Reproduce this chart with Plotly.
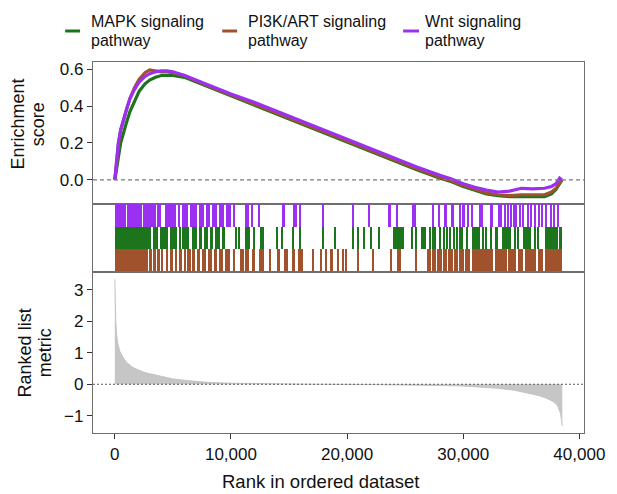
import plotly.graph_objects as go
from plotly.subplots import make_subplots

# ---------------- data ----------------
series_names = ["MAPK signaling pathway", "PI3K/ART signaling pathway", "Wnt signaling pathway"]
series_colors = ["#1c741c", "#a0522d", "#9b30f0"]

es_rank = [0, 150, 300, 500, 750, 1000, 1300, 1700, 2100, 2600, 3000, 3500, 4000, 4500, 5000,
           6000, 8000, 10000, 12000, 14000, 16000, 18000, 20000, 22000, 24000, 26000, 28000,
           29000, 30000, 31000, 32000, 33000, 34000, 35000, 36000, 37000, 37600, 38000, 38300, 38500]
es_mapk = [0, 0.05, 0.12, 0.20, 0.26, 0.31, 0.37, 0.43, 0.48, 0.52, 0.54, 0.555, 0.565, 0.565, 0.565,
           0.555, 0.505, 0.455, 0.405, 0.355, 0.305, 0.255, 0.205, 0.155, 0.105, 0.055, 0.01,
           -0.01, -0.035, -0.055, -0.075, -0.085, -0.09, -0.09, -0.09, -0.09, -0.075, -0.05, -0.02, 0]
es_pi3k = [0, 0.10, 0.19, 0.27, 0.33, 0.38, 0.44, 0.50, 0.545, 0.58, 0.595, 0.59, 0.585, 0.585, 0.58,
           0.565, 0.51, 0.46, 0.41, 0.36, 0.31, 0.26, 0.21, 0.16, 0.11, 0.06, 0.015,
           -0.005, -0.03, -0.05, -0.07, -0.08, -0.085, -0.08, -0.08, -0.08, -0.065, -0.045, -0.015, 0]
es_wnt = [0, 0.12, 0.20, 0.27, 0.33, 0.38, 0.44, 0.49, 0.53, 0.56, 0.575, 0.585, 0.59, 0.59, 0.585,
          0.565, 0.515, 0.465, 0.42, 0.37, 0.32, 0.27, 0.22, 0.17, 0.12, 0.07, 0.025,
          0.005, -0.02, -0.04, -0.055, -0.065, -0.06, -0.045, -0.048, -0.045, -0.035, -0.02, 0.01, 0]

# gene-set hit blocks [start, end] and single hits (ranks)
mapk_blocks = [[0, 3120], [3250, 3680], [3850, 4280], [4370, 4540], [4710, 5390], [5560, 5740],
               [5820, 6420], [6680, 7100], [7280, 7530], [7700, 8050], [8220, 8470], [8650, 9070],
               [9240, 9500], [11210, 11640], [12500, 12810], [23910, 24910], [26340, 26770],
               [30730, 31440], [32700, 33020], [33300, 34150], [35160, 35870], [37010, 38150],
               [38250, 38500]]
mapk_singles = [10440, 10670, 11960, 13950, 14380, 15380, 15950, 17950, 18940, 20480, 20910,
                21490, 22060, 22770, 25620, 25910, 27140, 27390, 27620, 28050, 28330, 28620,
                28910, 29190, 29470, 29760, 29870, 30300, 31730, 32010, 32440, 34440, 34730,
                36150, 36440]
pi3k_blocks = [[0, 2850], [3000, 3170], [3300, 3510], [3600, 3900], [4020, 4190], [4410, 4620],
               [4790, 5010], [5140, 5390], [5560, 5820], [5990, 6120], [6250, 6550], [6680, 6930],
               [7100, 7360], [7530, 7870], [8000, 8390], [8520, 8820], [8990, 9330], [9500, 9930],
               [10250, 10380], [10760, 11100], [11240, 11530], [11810, 12100], [12390, 12810],
               [13950, 14240], [14530, 14950], [15240, 15520], [15810, 16240], [18520, 18810],
               [24340, 24630], [26900, 27220], [27350, 27650], [27780, 28160], [28290, 28590],
               [28720, 29100], [29230, 29530], [29660, 30050], [30150, 30590], [30730, 32590],
               [32730, 33730], [33870, 34580], [34730, 35160], [35290, 36300], [36440, 36870],
               [37010, 38500]]
pi3k_singles = [13380, 17090, 17800, 18230, 19230, 19660, 19920, 20910, 22200, 23770, 25910]
wnt_blocks = [[0, 950], [1050, 2380], [2460, 3530], [3610, 3950], [4280, 5300], [5480, 5650],
              [5820, 6330], [6510, 7100], [7280, 7700], [7880, 8220], [8390, 8820], [8990, 9420],
              [9590, 9960], [11240, 11530], [14380, 14670], [15380, 15660], [23480, 23770],
              [25620, 25910], [27330, 27480], [28330, 28620], [28910, 29190], [29870, 30130],
              [32270, 32590], [33020, 33300]]
wnt_singles = [10250, 11810, 12390, 15950, 17950, 20480, 21910, 24340, 27910, 29760, 30450,
               30730, 31420, 31610, 33580, 33870, 34100, 34390, 34580, 34870, 35160, 35590,
               35810, 36210, 36550, 36810, 37150, 37580, 37840, 38150]

metric_rank = [0, 30, 80, 150, 250, 430, 710, 1000, 1570, 2500, 3570, 5000, 6420, 8000, 10000,
               13000, 17000, 22000, 26000, 29500, 31000, 33000, 34400, 35800, 36500, 37200,
               37700, 38100, 38380, 38450, 38530]
metric_val = [3.34, 2.6, 2.0, 1.6, 1.3, 1.05, 0.85, 0.7, 0.53, 0.38, 0.28, 0.17, 0.11, 0.06, 0.035,
              0.015, 0.0, -0.01, -0.03, -0.05, -0.08, -0.13, -0.19, -0.29, -0.36, -0.45,
              -0.54, -0.66, -0.93, -1.1, -1.33]

x_tick_vals = [0, 10000, 20000, 30000, 40000]
es_tick_vals = [0.0, 0.2, 0.4, 0.6]
metric_tick_vals = [-1, 0, 1, 2, 3]

# ---------------- figure ----------------
FONT = "Liberation Sans, Arial, Helvetica, sans-serif"
FRAME = "#6e6e6e"
OFF = 8  # page body margin in the browser

fig = make_subplots(rows=3, cols=1, shared_xaxes=True, vertical_spacing=0,
                    row_heights=[142, 68, 161])

for name, col, ys in zip(series_names, series_colors, [es_mapk, es_pi3k, es_wnt]):
    fig.add_trace(go.Scatter(x=es_rank, y=ys, mode="lines", name=name,
                             line=dict(color=col, width=3.2), showlegend=False), row=1, col=1)

hit_sets = [(mapk_blocks, mapk_singles, 1), (pi3k_blocks, pi3k_singles, 0), (wnt_blocks, wnt_singles, 2)]
for (blocks, singles, base), col in zip(hit_sets, series_colors):
    xs = [(a + b) / 2 for a, b in blocks] + singles
    ws = [b - a for a, b in blocks] + [110] * len(singles)
    fig.add_trace(go.Bar(x=xs, y=[1] * len(xs), base=[base] * len(xs), width=ws,
                         marker=dict(color=col, line=dict(width=0)), showlegend=False),
                  row=2, col=1)

fig.add_trace(go.Scatter(x=metric_rank, y=metric_val, mode="lines", fill="tozeroy",
                         fillcolor="#c6c6c6", line=dict(color="#bdbdbd", width=0.8),
                         showlegend=False), row=3, col=1)

fig.add_hline(y=0, row=1, col=1, line=dict(color="#7a7a7a", width=1.2, dash="4px,3px"))
fig.add_hline(y=0, row=3, col=1, line=dict(color="#555555", width=1.2, dash="2px,2px"))

xrange = [-1880, 40400]
common_x = dict(range=xrange, showline=True, mirror=True, linecolor=FRAME, linewidth=1.3,
                showgrid=False, zeroline=False)
fig.update_xaxes(**common_x)
fig.update_xaxes(showticklabels=False, ticks="", row=1, col=1)
fig.update_xaxes(showticklabels=False, ticks="", row=2, col=1)
fig.update_xaxes(tickvals=x_tick_vals, tickformat=",d", ticks="outside", ticklen=5,
                 tickcolor="#333", tickfont=dict(size=17, color="#111", family=FONT),
                 row=3, col=1)

common_y = dict(showline=True, mirror=True, linecolor=FRAME, linewidth=1.3,
                showgrid=False, zeroline=False)
fig.update_yaxes(**common_y)
fig.update_yaxes(range=[-0.13, 0.638], tickvals=es_tick_vals, tickformat=".1f",
                 ticks="outside", ticklen=5, tickcolor="#333",
                 tickfont=dict(size=17, color="#111", family=FONT), row=1, col=1)
fig.update_yaxes(range=[0, 3], showticklabels=False, ticks="", row=2, col=1)
fig.update_yaxes(range=[-1.55, 3.57], tickvals=metric_tick_vals, ticks="outside", ticklen=5,
                 tickcolor="#333", tickfont=dict(size=17, color="#111", family=FONT),
                 row=3, col=1)

# layout geometry (target pixel positions in the 617x494 page)
W, H = 617 - OFF, 494 - OFF
ML, MR, MT = 93 - OFF, 30, 62 - OFF
PH = 371
MB = H - MT - PH
pw = W - ML - MR


def px2paper_x(px):
    return (px - OFF - ML) / pw


def py2paper_y(py):
    return (H - MB - (py - OFF)) / PH


# legend (manual)
leg_line_px = [(65, 80), (223, 238), (405, 421)]
leg_text_px = [89, 247, 425]
line1 = ["MAPK signaling", "PI3K/ART signaling", "Wnt signaling"]
line2 = ["pathway", "pathway", "pathway"]

for (a, b), tx, t1, t2, col in zip(leg_line_px, leg_text_px, line1, line2, series_colors):
    fig.add_shape(type="line", xref="paper", yref="paper",
                  x0=px2paper_x(a), x1=px2paper_x(b), y0=py2paper_y(31), y1=py2paper_y(31),
                  line=dict(color=col, width=3))
    fig.add_annotation(text=t1, xref="paper", yref="paper", x=px2paper_x(tx), y=py2paper_y(22),
                       xanchor="left", yanchor="middle", showarrow=False,
                       font=dict(size=16, color="#111", family=FONT))
    fig.add_annotation(text=t2, xref="paper", yref="paper", x=px2paper_x(tx), y=py2paper_y(40),
                       xanchor="left", yanchor="middle", showarrow=False,
                       font=dict(size=16, color="#111", family=FONT))

# axis titles
for txt, xpx, ypx in [("Enrichment", 18, 124), ("score", 38, 124),
                      ("Ranked list", 25, 353), ("metric", 45, 353)]:
    fig.add_annotation(text=txt, xref="paper", yref="paper", x=px2paper_x(xpx), y=py2paper_y(ypx),
                       xanchor="center", yanchor="middle", textangle=-90, showarrow=False,
                       font=dict(size=18, color="#111", family=FONT))
fig.add_annotation(text="Rank in ordered dataset", xref="paper", yref="paper",
                   x=px2paper_x(322), y=py2paper_y(481), xanchor="center", yanchor="middle",
                   showarrow=False, font=dict(size=18.5, color="#111", family=FONT))

fig.update_layout(width=W, height=H, margin=dict(l=ML, r=MR, t=MT, b=MB),
                  paper_bgcolor="white", plot_bgcolor="white", barmode="overlay",
                  bargap=0, showlegend=False, font=dict(family=FONT))

fig.write_html("out.html")
